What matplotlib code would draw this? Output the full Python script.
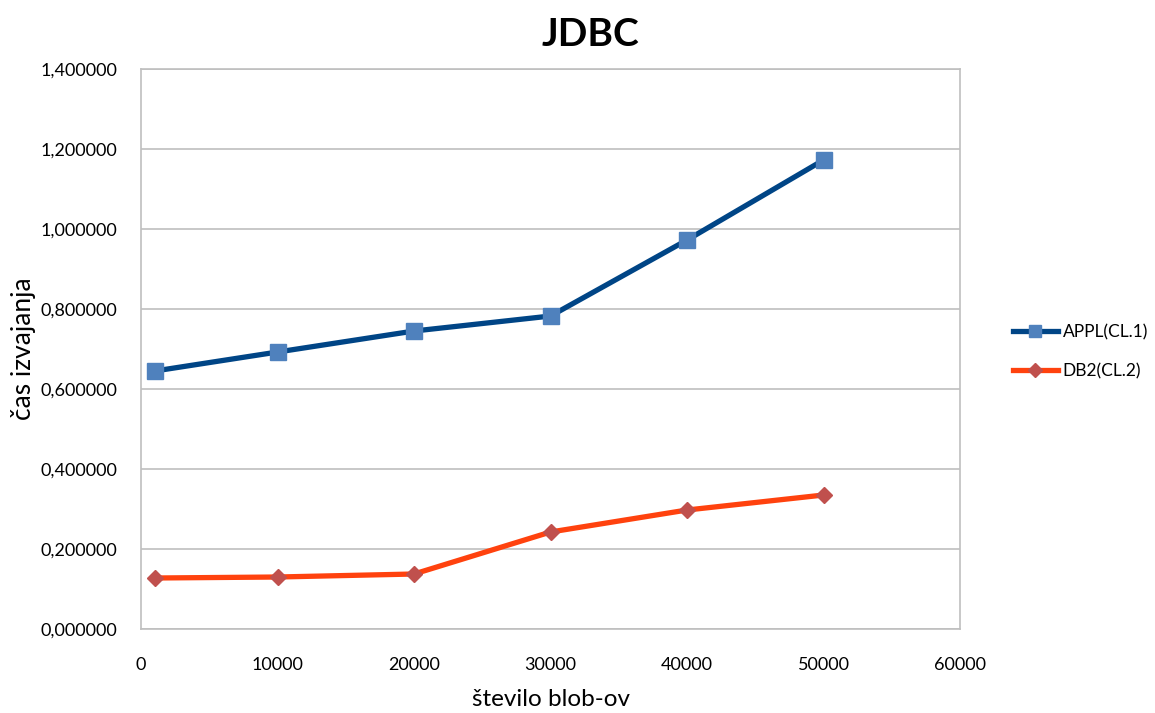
import matplotlib
matplotlib.use("Agg")
import matplotlib.pyplot as plt
from matplotlib.ticker import FuncFormatter, MultipleLocator

# Number of blobs and execution time per configuration
blob_counts = [1000, 10000, 20000, 30000, 40000, 50000]
appl_times = [0.645, 0.6925, 0.745, 0.7825, 0.9725, 1.1725]
db2_times = [0.1275, 0.13, 0.1375, 0.2425, 0.2975, 0.335]

series_names = ["APPL(CL.1)", "DB2(CL.2)"]
title = "JDBC"
x_label = "število blob-ov"
y_label = "čas izvajanja"

plt.rcParams["font.family"] = ["Lato", "DejaVu Sans"]

fig = plt.figure(figsize=(11.55, 7.13), dpi=100)
ax = fig.add_axes([0.1221, 0.1178, 0.8312 - 0.1221, 0.9032 - 0.1178])

ax.plot(blob_counts, appl_times, color="#004586", linewidth=3.8,
        marker="s", markersize=11, markerfacecolor="#4F81BD",
        markeredgecolor="#4F81BD", label=series_names[0], zorder=3)
ax.plot(blob_counts, db2_times, color="#FF420E", linewidth=3.8,
        marker="D", markersize=8.5, markerfacecolor="#C0504D",
        markeredgecolor="#C0504D", label=series_names[1], zorder=3)

ax.set_xlim(0, 60000)
ax.set_ylim(0, 1.4)
ax.xaxis.set_major_locator(MultipleLocator(10000))
ax.yaxis.set_major_locator(MultipleLocator(0.2))
ax.yaxis.set_major_formatter(
    FuncFormatter(lambda v, _: f"{v:,.6f}".replace(".", ",")))
ax.xaxis.set_major_formatter(FuncFormatter(lambda v, _: f"{int(round(v))}"))

ax.grid(axis="y", color="#BFBFBF", linewidth=1.2)
ax.set_axisbelow(True)
for side in ax.spines.values():
    side.set_color("#BFBFBF")
    side.set_linewidth(1.2)

ax.tick_params(axis="both", length=0, labelsize=13, colors="black")
ax.tick_params(axis="x", pad=20)
ax.tick_params(axis="y", pad=17)

fig.text(590 / 1155, 1 - 35 / 713, title, fontsize=28, fontweight="bold",
         ha="center", va="center")

ax.set_xlabel(x_label, fontsize=17.5)
ax.xaxis.set_label_coords(0.5, -0.125)
ax.xaxis.label.set_va("center")

ax.set_ylabel(y_label, fontsize=19)
ax.yaxis.set_label_coords(-0.144, 0.5)
ax.yaxis.label.set_va("center")

ax.legend(loc="center left", bbox_to_anchor=(1.045, 0.495), frameon=False,
          fontsize=12.5, handlelength=2.6, labelspacing=1.3,
          handletextpad=0.3, markerscale=0.8)

fig.savefig("out.png", dpi=100, facecolor="white")
